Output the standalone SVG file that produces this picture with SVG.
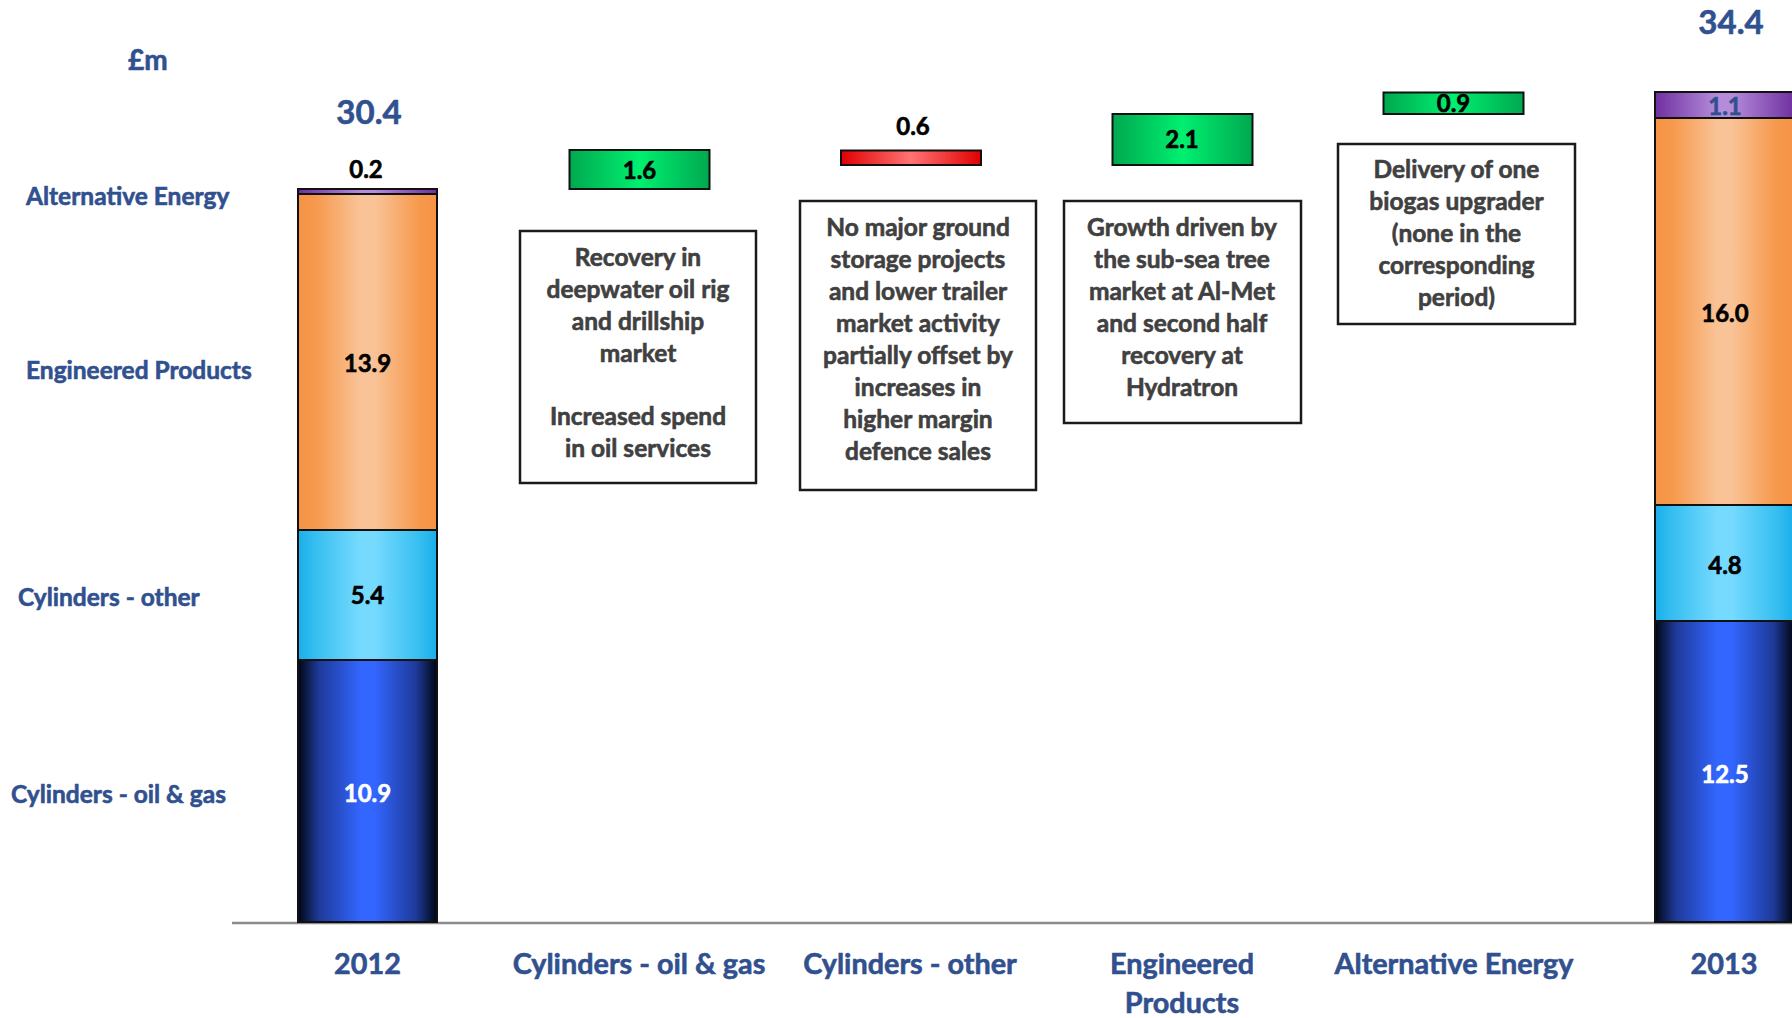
<svg xmlns="http://www.w3.org/2000/svg" width="1792" height="1018" viewBox="0 0 1792 1018">
<defs>
<linearGradient id="gOrange" x1="0" y1="0" x2="1" y2="0">
<stop offset="0" stop-color="#F69345"/><stop offset="0.12" stop-color="#F6984B"/><stop offset="0.45" stop-color="#F9C397"/><stop offset="0.55" stop-color="#F9C397"/><stop offset="0.88" stop-color="#F6984B"/><stop offset="1" stop-color="#F69345"/>
</linearGradient>
<linearGradient id="gCyan" x1="0" y1="0" x2="1" y2="0">
<stop offset="0" stop-color="#19AEE9"/><stop offset="0.12" stop-color="#35BEF0"/><stop offset="0.45" stop-color="#76DAFF"/><stop offset="0.55" stop-color="#76DAFF"/><stop offset="0.88" stop-color="#35BEF0"/><stop offset="1" stop-color="#19AEE9"/>
</linearGradient>
<linearGradient id="gBlue" x1="0" y1="0" x2="1" y2="0">
<stop offset="0" stop-color="#000612"/><stop offset="0.15" stop-color="#1E3A99"/><stop offset="0.45" stop-color="#3366FF"/><stop offset="0.55" stop-color="#3366FF"/><stop offset="0.85" stop-color="#1E3A99"/><stop offset="1" stop-color="#000612"/>
</linearGradient>
<linearGradient id="gPurple" x1="0" y1="0" x2="1" y2="0">
<stop offset="0" stop-color="#7030A0"/><stop offset="0.45" stop-color="#B48CDA"/><stop offset="0.55" stop-color="#B48CDA"/><stop offset="1" stop-color="#7030A0"/>
</linearGradient>
<linearGradient id="gGreen" x1="0" y1="0" x2="1" y2="0">
<stop offset="0" stop-color="#00A84F"/><stop offset="0.5" stop-color="#00F070"/><stop offset="1" stop-color="#00A84F"/>
</linearGradient>
<linearGradient id="gRed" x1="0" y1="0" x2="1" y2="0">
<stop offset="0" stop-color="#E00000"/><stop offset="0.5" stop-color="#FF7474"/><stop offset="1" stop-color="#E00000"/>
</linearGradient>
</defs>
<style>
text{font-family:Lato,"Open Sans","Liberation Sans",sans-serif;font-weight:700;stroke-width:0.6px;paint-order:stroke}
.seg{stroke:#111;stroke-width:2}
.note{fill:#fff;stroke:#1a1a1a;stroke-width:2.5}
.nt{font-size:24.5px;fill:#404040;stroke:#404040;text-anchor:middle}
.val{font-size:24px;fill:#000;stroke:#000;text-anchor:middle}
.wval{font-size:24px;fill:#fff;stroke:#fff;text-anchor:middle}
.blue{fill:#31508F;stroke:#31508F}
.lab{font-size:24.5px}
.cat{font-size:28.8px;text-anchor:middle}
.tot{font-size:33px;text-anchor:middle}
</style>
<rect width="1792" height="1018" fill="#fff"/>

<g id="connectors">
<line x1="232" y1="923" x2="1792" y2="923" stroke="#8c8c8c" stroke-width="2.5"/>
</g>

<g id="unit"><text class="blue" x="128" y="70" font-size="28">£m</text></g>

<g id="legend-labels">
<text class="blue lab" x="26" y="205">Alternative Energy</text>
<text class="blue lab" x="26" y="379">Engineered Products</text>
<text class="blue lab" x="18" y="606">Cylinders - other</text>
<text class="blue lab" x="11" y="803">Cylinders - oil &amp; gas</text>
</g>

<g id="bar-2012">
<rect class="seg" x="298" y="660" width="139" height="262" fill="url(#gBlue)"/>
<rect class="seg" x="298" y="530" width="139" height="130" fill="url(#gCyan)"/>
<rect class="seg" x="298" y="194" width="139" height="336" fill="url(#gOrange)"/>
<rect class="seg" x="298" y="189" width="139" height="5" fill="url(#gPurple)"/>
<text class="wval" x="367.5" y="802">10.9</text>
<text class="val" x="367.5" y="604">5.4</text>
<text class="val" x="367.5" y="372">13.9</text>
<text class="val" x="366" y="178">0.2</text>
<text class="blue tot" x="369" y="124">30.4</text>
<text class="blue cat" x="367.5" y="974">2012</text>
</g>

<g id="delta-cyl-oil-gas">
<rect class="seg" x="569.5" y="150" width="140" height="39" fill="url(#gGreen)"/>
<text class="val" x="639.5" y="179">1.6</text>
<rect class="note" x="520" y="231" width="236" height="252"/>
<text class="nt" x="638" y="266">Recovery in</text>
<text class="nt" x="638" y="298">deepwater oil rig</text>
<text class="nt" x="638" y="330">and drillship</text>
<text class="nt" x="638" y="362">market</text>
<text class="nt" x="638" y="425">Increased spend</text>
<text class="nt" x="638" y="457">in oil services</text>
<text class="blue cat" x="639" y="974">Cylinders - oil &amp; gas</text>
</g>

<g id="delta-cyl-other">
<rect class="seg" x="841" y="150.5" width="140" height="14.5" fill="url(#gRed)"/>
<text class="val" x="913" y="135">0.6</text>
<rect class="note" x="800" y="201" width="236" height="289"/>
<text class="nt" x="918" y="236">No major ground</text>
<text class="nt" x="918" y="268">storage projects</text>
<text class="nt" x="918" y="300">and lower trailer</text>
<text class="nt" x="918" y="332">market activity</text>
<text class="nt" x="918" y="364">partially offset by</text>
<text class="nt" x="918" y="396">increases in</text>
<text class="nt" x="918" y="428">higher margin</text>
<text class="nt" x="918" y="460">defence sales</text>
<text class="blue cat" x="910" y="974">Cylinders - other</text>
</g>

<g id="delta-engineered">
<rect class="seg" x="1112.5" y="114" width="140" height="51" fill="url(#gGreen)"/>
<text class="val" x="1182" y="148">2.1</text>
<rect class="note" x="1064" y="201" width="237" height="222"/>
<text class="nt" x="1182" y="236">Growth driven by</text>
<text class="nt" x="1182" y="268">the sub-sea tree</text>
<text class="nt" x="1182" y="300">market at Al-Met</text>
<text class="nt" x="1182" y="332">and second half</text>
<text class="nt" x="1182" y="364">recovery at</text>
<text class="nt" x="1182" y="396">Hydratron</text>
<text class="blue cat" x="1182" y="974">Engineered</text>
<text class="blue cat" x="1182" y="1013">Products</text>
</g>

<g id="delta-alt-energy">
<rect class="seg" x="1383.5" y="92.5" width="140" height="21.5" fill="url(#gGreen)"/>
<text class="val" x="1453.5" y="112">0.9</text>
<rect class="note" x="1338" y="144" width="237" height="180"/>
<text class="nt" x="1456.5" y="178">Delivery of one</text>
<text class="nt" x="1456.5" y="210">biogas upgrader</text>
<text class="nt" x="1456.5" y="242">(none in the</text>
<text class="nt" x="1456.5" y="274">corresponding</text>
<text class="nt" x="1456.5" y="306">period)</text>
<text class="blue cat" x="1454" y="974">Alternative Energy</text>
</g>

<g id="bar-2013">
<rect class="seg" x="1655" y="621" width="139" height="301" fill="url(#gBlue)"/>
<rect class="seg" x="1655" y="505" width="139" height="116" fill="url(#gCyan)"/>
<rect class="seg" x="1655" y="118" width="139" height="387" fill="url(#gOrange)"/>
<rect class="seg" x="1655" y="92" width="139" height="26" fill="url(#gPurple)"/>
<text class="wval" x="1725" y="783">12.5</text>
<text class="val" x="1725" y="574">4.8</text>
<text class="val" x="1725" y="322">16.0</text>
<text class="val blue" x="1725" y="115">1.1</text>
<text class="blue tot" x="1731" y="34">34.4</text>
<text class="blue cat" x="1724" y="974">2013</text>
</g>
</svg>
